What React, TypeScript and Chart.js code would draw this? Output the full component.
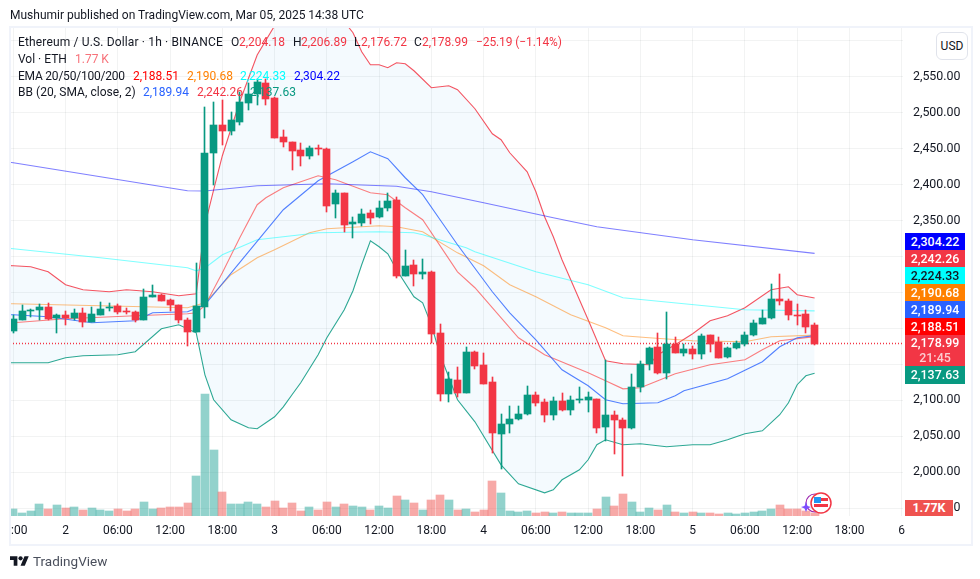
import React, { useEffect, useRef } from "react";
import { Chart, registerables } from "chart.js";

Chart.register(...registerables);

const opens = [2197,2212,2224,2225,2230,2215,2219,2215,2222,2209,2219,2229,2231,2224,2223,2212,2243,2247,2239,2233,2212,2195,2230,2444,2483,2475,2487,2513,2526,2541,2520,2466,2459,2448,2440,2451,2450,2373,2388,2345,2347,2360,2355,2368,2378,2273,2288,2275,2278,2193,2109,2128,2110,2167,2149,2125,2053,2067,2074,2081,2108,2098,2080,2099,2087,2100,2101,2102,2063,2079,2073,2062,2118,2150,2174,2138,2179,2166,2172,2165,2191,2181,2160,2173,2179,2191,2206,2214,2241,2238,2219,2220,2204.18];
const highs = [2219,2233,2227,2234,2236,2220,2224,2227,2229,2230,2237,2236,2234,2229,2224,2255,2261,2248,2241,2233,2215,2291,2508,2514,2518,2501,2528,2541,2547,2547,2521,2476,2459,2457,2454,2455,2451,2393,2388,2355,2366,2365,2377,2388,2382,2309,2295,2297,2280,2206,2140,2147,2174,2168,2166,2133,2081,2092,2092,2120,2112,2102,2105,2110,2106,2118,2112,2102,2156,2085,2076,2136,2155,2174,2194,2223,2188,2179,2176,2192,2191,2188,2174,2183,2195,2212,2226,2262,2275,2241,2234,2225,2206.89];
const lows = [2194,2212,2216,2211,2212,2194,2205,2212,2202,2209,2219,2224,2220,2220,2209,2212,2243,2238,2224,2208,2175,2195,2215,2400,2455,2469,2483,2503,2511,2511,2465,2452,2420,2426,2436,2441,2362,2354,2334,2325,2343,2345,2354,2363,2270,2273,2259,2268,2180,2099,2098,2105,2110,2144,2123,2027,2005,2055,2072,2080,2092,2070,2072,2085,2080,2097,2084,2055,2044,2026,1995,2060,2112,2142,2137,2129,2166,2161,2158,2158,2167,2159,2159,2172,2176,2190,2206,2213,2233,2211,2205,2194,2176.72];
const closes = [2213,2224,2226,2230,2213,2218,2215,2222,2209,2220,2227,2230,2223,2223,2212,2244,2247,2238,2233,2212,2195,2231,2444,2483,2475,2489,2515,2526,2543,2519,2465,2459,2447,2440,2451,2450,2370,2388,2344,2348,2359,2354,2368,2377,2273,2287,2276,2279,2192,2109,2129,2110,2167,2148,2123,2055,2067,2074,2081,2108,2097,2079,2099,2087,2101,2102,2105,2062,2079,2072,2062,2119,2151,2173,2138,2179,2166,2172,2165,2190,2179,2159,2173,2180,2191,2208,2215,2241,2238,2218,2217,2202,2178.99];
const volumesK = [4.1,1.8,3,7.1,4.1,6.5,4.7,5.3,3.5,4.7,3.5,3,4.1,3,4.1,8.3,4.1,4.7,5.3,5.3,7.7,23.6,72,38.9,14.2,7.1,7.1,8.3,7.1,5.3,8.9,4.7,7.7,3,5.3,3.5,8.3,5.3,7.1,5.9,5.3,3.5,5.9,4.7,11.8,9.4,7.7,3.5,9.4,12.4,9.4,3.5,4.1,2.4,3.5,20.7,13.6,3,2.4,3,1.8,2.4,1.8,2.4,1.8,1.8,1.8,4.1,11.2,5.9,13,8.3,2.4,4.7,3.5,6.5,2.4,1.8,2.4,1.8,1.8,1.2,1.8,1.2,1.8,2.4,3,4.1,6.5,4.1,4.1,3,1.77];

const ema200Idx = [-1,0,10,20,22,28,36,44,48,54,62,67,78,92];
const ema200 = [2432,2430.2,2410.8,2391.3,2391,2398.3,2401,2397.6,2390,2374.6,2353.8,2341.3,2323.2,2304.22];
const ema100Idx = [-1,0,10,20,21,22,24,28,35,42,46,47,52,53,60,66,70,77,84,92];
const ema100 = [2312,2310.7,2298.2,2284.3,2280,2284,2302.4,2323.2,2332.9,2334.3,2333,2330.2,2312,2306.5,2278.7,2260.7,2242.6,2234.2,2225.9,2224.33];
const ema50Idx = [-1,0,10,20,22,25,28,30,34,36,42,44,47,51,54,57,60,64,68,70,73,78,84,87,92];
const ema50 = [2234.4,2234.2,2231.5,2228.7,2235.6,2274.6,2298.2,2309.3,2332.9,2338.5,2342.7,2341.3,2334.3,2305,2287,2260.7,2244,2219,2200.9,2189.8,2187,2182.8,2181.4,2188.4,2190.68];
const ema20Idx = [-1,0,6,14,20,21,22,24,26,28,29,31,35,37,41,43,45,47,51,53,58,61,66,68,70,72,74,76,80,84,86,88,92];
const ema20 = [2207,2207.8,2213.4,2217.6,2220.3,2221.7,2231.5,2277.3,2326,2371.9,2381.6,2395.5,2412.2,2406.6,2388.5,2385.8,2367.7,2351,2278.7,2256.5,2187,2163.4,2138.3,2127.2,2116,2117.5,2127.2,2137,2149.5,2156.4,2170.3,2182.8,2188.51];
const bbBasisIdx = [-1,0,4,9,14,16,20,22,27,31,35,39,41,43,45,47,49,51,55,57,60,63,66,68,70,74,76,77,82,86,88,90,92];
const bbBasis = [2219,2219,2216.2,2207.8,2210.6,2221.7,2223.1,2232.9,2306.5,2364.9,2405.2,2431.6,2445.5,2435.8,2409.4,2385.8,2351,2316.2,2250.9,2221.7,2184.2,2142.5,2120.3,2100.8,2095.2,2096.6,2106.4,2113.3,2130,2153.6,2174.5,2187,2189.94];
const bbUpperIdx = [-1,0,2,4,6,8,11,13,16,19,21,22,23,24,26,28,30,32,36,38,39,40,41,42,43,44,45,46,48,50,51,53,55,56,57,59,60,61,62,63,64,66,68,70,73,74,76,78,80,82,84,87,89,90,92];
const bbUpper = [2287.5,2287,2285.7,2278.7,2260.7,2253.7,2251,2253.7,2251,2245.4,2248.1,2344,2392.7,2440,2515,2580,2620.7,2650,2656,2626.2,2611,2584.5,2566.5,2566.5,2562.3,2569.2,2567.8,2558.1,2534.5,2537.3,2531.7,2505.3,2470.5,2462.2,2444.1,2417.7,2390,2355.2,2327.4,2295.4,2267.6,2212,2155,2150.8,2149.4,2163.4,2177.3,2192.5,2210.6,2217.6,2228.7,2253.7,2257.9,2246.8,2242.26];
const bbLowerIdx = [-1,0,4,6,8,12,14,17,19,21,22,23,25,27,28,30,31,32,33,35,36,38,39,40,41,42,43,44,46,47,48,49,51,53,56,58,61,62,63,65,66,67,68,70,72,75,78,80,82,84,86,88,89,90,91,92];
const bbLower = [2152.2,2152.2,2152.2,2159.2,2162,2163.4,2167.5,2199.5,2205,2193.9,2135.5,2100.8,2073,2061.9,2060.5,2077.2,2091,2107.8,2124.4,2163.4,2187,2225.9,2252.3,2288.5,2321.8,2313.5,2303.7,2281.5,2243.9,2235.6,2205,2163.4,2100.8,2070.2,2010.4,1984,1971.5,1975.7,1989.6,2003.5,2017.4,2038.3,2045.2,2038.3,2039.6,2035.5,2038.3,2038.3,2045.2,2053.5,2057.7,2080,2096.6,2121.7,2134.2,2137.63];

const timeLabels = ["    :00","2","06:00","12:00","18:00","3","06:00","12:00","18:00","4","06:00","12:00","18:00","5","06:00","12:00","18:00","6"];
const lastClose = 2178.99;
const priceMin = 1939.26;
const priceMax = 2618.92;
const volumeMax = 288.5;

const UP = "#089981";
const DOWN = "#f23645";
const FONT = "Roboto, sans-serif";

const toXY = (idx: number[], vals: number[]) => idx.map((x, k) => ({ x, y: vals[k] }));

const snapBars = {
  id: "snapBars",
  afterDatasetsUpdate(chart: any) {
    chart.data.datasets.forEach((ds: any, i: number) => {
      if (ds.type !== "bar") return;
      const even = ds.barThickness % 2 === 0;
      chart.getDatasetMeta(i).data.forEach((el: any) => {
        el.x = even ? Math.round(el.x) : Math.floor(el.x) + 0.5;
        const top = Math.round(Math.min(el.y, el.base));
        let bot = Math.round(Math.max(el.y, el.base));
        if (bot - top < 1) bot = top + 1;
        el.y = top;
        el.base = bot;
      });
    });
  },
};

const noMargins = (s: any) => {
  s.paddingLeft = 0;
  s.paddingRight = 0;
  s.paddingTop = 0;
  s.paddingBottom = 0;
};

const INK = "#131722";
const legendRows: [number, number, string, string, number][] = [
  [18, 42, "Ethereum / U.S. Dollar · 1h · BINANCE", INK, 0.15],
  [231, 42, "O", INK, 0], [239, 42, "2,204.18", DOWN, 0],
  [293, 42, "H", INK, 0], [301, 42, "2,206.89", DOWN, 0],
  [354, 42, "L", INK, 0], [361, 42, "2,176.72", DOWN, 0],
  [414, 42, "C", INK, 0], [422, 42, "2,178.99", DOWN, 0],
  [476, 42, "−25.19 (−1.14%)", DOWN, -0.1],
  [18, 59, "Vol · ETH", INK, 0], [75, 59, "1.77 K", "#f7727a", 0],
  [18, 76, "EMA 20/50/100/200", INK, -0.22],
  [133, 76, "2,188.51", "#ff0000", 0], [187, 76, "2,190.68", "#ff8000", 0],
  [240, 76, "2,224.33", "#00ffff", 0], [294, 76, "2,304.22", "#0000ff", 0],
  [18, 92, "BB (20, SMA, close, 2)", INK, 0.05],
  [143, 92, "2,189.94", "#2962ff", 0], [197, 92, "2,242.26", DOWN, 0], [250, 92, "2,137.63", UP, 0],
];

const badges: [number, number, string, string, string][] = [
  [233, 17, "2,304.22", "#0000ff", "#fff"],
  [250, 17, "2,242.26", "#f23645", "#fff"],
  [267, 17, "2,224.33", "#00ffff", "#131722"],
  [284, 17, "2,190.68", "#ff8000", "#fff"],
  [301, 17, "2,189.94", "#2962ff", "#fff"],
  [318, 17, "2,188.51", "#ff0000", "#fff"],
  [366, 18, "2,137.63", "#089981", "#fff"],
];

export default function App() {
  const ref = useRef<HTMLCanvasElement>(null);

  useEffect(() => {
    const xs = closes.map((_, i) => i);
    const colors = closes.map((c, i) => (c >= opens[i] ? UP : DOWN));
    const volColors = closes.map((c, i) => (c >= opens[i] ? "rgba(38,166,154,0.5)" : "rgba(239,83,80,0.5)"));
    const line = (label: string, data: any[], color: string, extra: any = {}) => ({
      type: "line", label, data, borderColor: color, borderWidth: 1.1, pointRadius: 0, tension: 0, fill: false, order: 3, ...extra,
    });
    const chart = new Chart(ref.current as HTMLCanvasElement, {
      type: "bar",
      data: {
        datasets: [
          { type: "bar", label: "Vol", data: xs.map((i) => ({ x: i, y: volumesK[i] })), yAxisID: "yVol", backgroundColor: volColors, barThickness: 8, grouped: false, order: 6 },
          line("BB Upper", toXY(bbUpperIdx, bbUpper), "rgba(242,54,69,0.85)", { fill: { target: 2 }, backgroundColor: "rgba(33,150,243,0.05)", order: 5 }),
          line("BB Lower", toXY(bbLowerIdx, bbLower), "rgba(8,153,129,0.85)", { order: 4 }),
          line("BB Basis", toXY(bbBasisIdx, bbBasis), "rgba(41,98,255,0.8)"),
          line("EMA 200", toXY(ema200Idx, ema200), "rgba(0,0,255,0.5)"),
          line("EMA 100", toXY(ema100Idx, ema100), "rgba(0,255,255,0.5)"),
          line("EMA 50", toXY(ema50Idx, ema50), "rgba(255,128,0,0.5)"),
          line("EMA 20", toXY(ema20Idx, ema20), "rgba(255,0,0,0.5)"),
          line("Last", [{ x: -1, y: lastClose }, { x: 103, y: lastClose }], "#f23645", { borderDash: [1, 2], borderDashOffset: 0.6, borderWidth: 1.6, borderCapStyle: "butt", order: 3 }),
          { type: "bar", label: "Wick", data: xs.map((i) => ({ x: i, y: [lows[i], highs[i]] })), backgroundColor: colors, barThickness: 1, grouped: false, order: 2 },
          { type: "bar", label: "Body", data: xs.map((i) => ({ x: i, y: [opens[i], closes[i]] })), backgroundColor: colors, barThickness: 7, grouped: false, order: 1 },
        ] as any,
      },
      plugins: [snapBars],
      options: {
        animation: false,
        responsive: false,
        maintainAspectRatio: false,
        layout: { padding: { left: 10, top: 27, right: 0, bottom: 0 } },
        plugins: { legend: { display: false }, title: { display: false }, tooltip: { enabled: false } },
        scales: {
          x: {
            type: "linear", min: -0.38, max: 102.15, offset: false,
            grid: { color: "rgba(42,46,57,0.06)", drawTicks: false, offset: false },
            border: { display: false },
            afterFit: (s: any) => { s.height = 63; noMargins(s); },
            ticks: {
              stepSize: 6, includeBounds: false, autoSkip: false, maxRotation: 0, minRotation: 0, padding: 8,
              color: INK, font: { family: FONT, size: 12 },
              callback: (v: any) => timeLabels[Math.round(Number(v) / 6)] ?? "",
            },
          },
          y: {
            type: "linear", position: "right", min: priceMin, max: priceMax,
            grid: { color: "rgba(42,46,57,0.06)", drawTicks: false },
            border: { display: false },
            afterFit: (s: any) => { s.width = 77; noMargins(s); },
            ticks: {
              stepSize: 50, includeBounds: false, padding: 10,
              color: INK, font: { family: FONT, size: 12.4 },
              callback: (v: any) => (Number(v) >= 2600 ? "" : Number(v).toLocaleString("en-US", { minimumFractionDigits: 2, maximumFractionDigits: 2 })),
            },
          },
          yVol: { type: "linear", display: false, min: 0, max: volumeMax, grid: { display: false } },
        },
      } as any,
    });
    return () => chart.destroy();
  }, []);

  const text: React.CSSProperties = { position: "absolute", whiteSpace: "pre", fontFamily: FONT, fontSize: 12, lineHeight: "14px" };

  return (
    <div style={{ position: "fixed", left: 0, top: 0, width: 980, height: 579, background: "#fff", overflow: "hidden" }}>
      <canvas ref={ref} width={980} height={579} style={{ position: "absolute", left: 0, top: 0, width: 980, height: 579 }} />
      <div style={{ position: "absolute", left: 9, top: 26, width: 960, height: 516, border: "2px solid #f0f3fa", pointerEvents: "none" }} />
      <div style={{ ...text, left: 10, top: 8, color: INK }}>Mushumir published on TradingView.com, Mar 05, 2025 14:38 UTC</div>
      {legendRows.map(([x, y, t, c, ls], i) => (
        <div key={i} style={{ ...text, left: x, top: y - 7, color: c, letterSpacing: ls }}>{t}</div>
      ))}
      <div style={{ ...text, left: 936, top: 32, width: 30, height: 26, lineHeight: "26px", textAlign: "center", border: "1px solid #e0e3eb", borderRadius: 6, color: INK, background: "#fff" }}>USD</div>
      {badges.map(([y, h, t, bg, c], i) => (
        <div key={i} style={{ ...text, left: 905, top: y, width: 60, height: h, lineHeight: h + "px", textAlign: "center", fontSize: 12.4, fontWeight: 500, background: bg, color: c }}>{t}</div>
      ))}
      <div style={{ ...text, left: 905, top: 335, width: 60, height: 31, background: DOWN, color: "#fff", textAlign: "center", fontSize: 12.4, fontWeight: 500 }}>
        <div style={{ lineHeight: "16px" }}>2,178.99</div>
        <div style={{ lineHeight: "14px", opacity: 0.75 }}>21:45</div>
      </div>
      <div style={{ ...text, left: 905, top: 500, width: 48, height: 16, lineHeight: "16px", textAlign: "center", background: "#ef5350", color: "#fff", fontWeight: 700, fontSize: 12.5 }}>1.77K</div>
      <svg style={{ position: "absolute", left: 800, top: 490 }} width="36" height="28" viewBox="0 0 36 28">
        <circle cx="15" cy="13" r="9" fill="none" stroke="#9c27b0" strokeWidth="1.2" />
        <path d="M6 12 L7.5 16 L11 17 L7.5 18.5 L6 22 L4.5 18.5 L1 17 L4.5 16 Z" fill="#7c4dff" />
        <circle cx="21" cy="13" r="10" fill="#fff" stroke="#f23645" strokeWidth="1.5" />
        <rect x="14" y="8" width="14" height="3" fill="#f23645" />
        <rect x="14" y="14" width="14" height="3" fill="#f23645" />
        <rect x="14" y="7" width="7" height="6" fill="#2196f3" />
      </svg>
      <svg style={{ position: "absolute", left: 10, top: 556 }} width="19" height="10" viewBox="0 4 36 18">
        <path d="M14 22H7V11H0V4h14v18zM28 22h-8l7.5-18h8L28 22z" fill={INK} />
        <circle cx="20" cy="8" r="4" fill={INK} />
      </svg>
      <div style={{ ...text, left: 33, top: 553, fontSize: 13.5, lineHeight: "16px", color: "#4a4f5c" }}>TradingView</div>
    </div>
  );
}
